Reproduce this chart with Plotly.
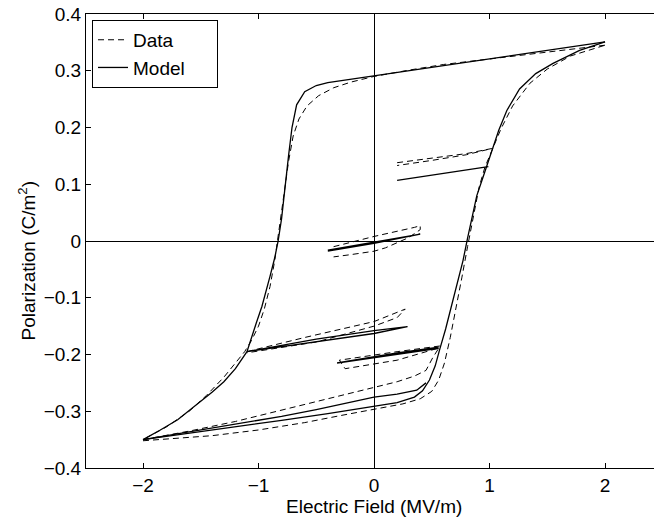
import plotly.graph_objects as go

# ---------------- data ----------------
# Model, major loop descending branch
model_desc_E = [2.0, 1.6, 1.2, 0.8, 0.4, 0.0, -0.2, -0.4, -0.5, -0.6, -0.67, -0.71, -0.74, -0.77, -0.8, -0.83,
                -0.86, -0.9, -0.93, -0.97, -1.02, -1.06, -1.1, -1.2, -1.3, -1.4, -1.55, -1.7, -1.85, -2.0]
model_desc_P = [0.351, 0.339, 0.327, 0.315, 0.303, 0.291, 0.285, 0.279, 0.274, 0.263, 0.240, 0.200, 0.150, 0.090,
                0.040, 0.000, -0.030, -0.062, -0.086, -0.115, -0.145, -0.172, -0.195, -0.225, -0.248, -0.266,
                -0.290, -0.315, -0.333, -0.350]
# Model, major loop ascending branch
model_asc_E = [-2.0, -1.6, -1.2, -0.8, -0.4, 0.0, 0.2, 0.35, 0.42, 0.48, 0.53, 0.57, 0.62, 0.67, 0.72, 0.77, 0.81,
               0.85, 0.89, 0.94, 0.98, 1.03, 1.08, 1.15, 1.26, 1.4, 1.55, 1.78, 2.0]
model_asc_P = [-0.350, -0.339, -0.328, -0.316, -0.304, -0.292, -0.285, -0.275, -0.264, -0.245, -0.220, -0.190,
               -0.155, -0.115, -0.075, -0.035, 0.005, 0.045, 0.080, 0.110, 0.135, 0.165, 0.195, 0.230, 0.268,
               0.295, 0.313, 0.336, 0.351]
# Model, return curve in the lower part
model_ret_E = [-2.0, -1.6, -1.2, -0.8, -0.5, -0.2, 0.0, 0.2, 0.37, 0.45]
model_ret_P = [-0.350, -0.336, -0.322, -0.309, -0.297, -0.283, -0.275, -0.270, -0.263, -0.250]
# Model, minor loops
model_loopA_E = [0.2, 0.6, 0.99]
model_loopA_P = [0.107, 0.119, 0.131]
model_loopB_E = [-0.4, 0.0, 0.4, 0.0, -0.4]
model_loopB_P = [-0.016, -0.002, 0.012, -0.004, -0.018]
model_loopC_E = [-1.1, -0.5, 0.0, 0.29, 0.0, -0.5, -1.1]
model_loopC_P = [-0.195, -0.177, -0.163, -0.151, -0.158, -0.173, -0.195]
model_loopD_E = [0.56, 0.2, -0.32, 0.0, 0.56]
model_loopD_P = [-0.187, -0.197, -0.215, -0.206, -0.189]

# Data, major loop descending branch
data_desc_E = [2.0, 1.75, 1.5, 1.2, 0.9, 0.6, 0.3, 0.0, -0.2, -0.35, -0.48, -0.58, -0.65, -0.7, -0.74, -0.78,
               -0.82, -0.86, -0.9, -0.95, -1.0, -1.06, -1.12, -1.2, -1.3, -1.45, -1.6, -1.8, -2.0]
data_desc_P = [0.345, 0.339, 0.333, 0.326, 0.319, 0.311, 0.301, 0.290, 0.280, 0.270, 0.256, 0.238, 0.215, 0.185,
               0.140, 0.080, 0.020, -0.035, -0.080, -0.120, -0.150, -0.175, -0.195, -0.215, -0.240, -0.272,
               -0.300, -0.328, -0.350]
# Data, major loop ascending branch
data_asc_E = [-2.0, -1.7, -1.4, -1.0, -0.6, -0.3, 0.0, 0.25, 0.4, 0.5, 0.56, 0.61, 0.66, 0.71, 0.76, 0.81, 0.86,
              0.91, 0.96, 1.02, 1.1, 1.2, 1.35, 1.5, 1.7, 2.0]
data_asc_P = [-0.352, -0.348, -0.343, -0.333, -0.320, -0.308, -0.297, -0.287, -0.278, -0.265, -0.245, -0.215,
              -0.170, -0.120, -0.065, -0.010, 0.045, 0.095, 0.130, 0.160, 0.198, 0.238, 0.278, 0.303, 0.326, 0.345]
# Data, return curve in the lower part
data_ret_E = [-2.0, -1.6, -1.2, -0.9, -0.6, -0.3, 0.0, 0.2, 0.35, 0.45, 0.51, 0.57]
data_ret_P = [-0.350, -0.335, -0.318, -0.303, -0.287, -0.272, -0.258, -0.248, -0.238, -0.228, -0.205, -0.186]
# Data, minor loops
data_loopA_E = [0.2, 0.5, 0.8, 1.02, 0.8, 0.5, 0.2]
data_loopA_P = [0.138, 0.146, 0.154, 0.163, 0.152, 0.142, 0.133]
data_loopB_E = [-0.35, 0.0, 0.35, 0.4, 0.4, 0.3, 0.1, 0.0, -0.2, -0.35]
data_loopB_P = [-0.010, 0.008, 0.024, 0.027, 0.020, 0.006, -0.012, -0.018, -0.024, -0.028]
data_loopC_E = [-1.1, -0.6, 0.0, 0.27, 0.2, 0.0, -0.5, -1.1]
data_loopC_P = [-0.195, -0.170, -0.142, -0.120, -0.135, -0.150, -0.178, -0.197]
data_loopD_E = [0.57, 0.2, -0.3, -0.25, 0.2, 0.57]
data_loopD_P = [-0.185, -0.195, -0.210, -0.225, -0.210, -0.188]

series_names = ["Data", "Model"]
x_ticks = [-2, -1, 0, 1, 2]
x_ticktext = ["\u22122", "\u22121", "0", "1", "2"]
y_ticks = [-0.4, -0.3, -0.2, -0.1, 0, 0.1, 0.2, 0.3, 0.4]
y_ticktext = ["\u22120.4", "\u22120.3", "\u22120.2", "\u22120.1", "0", "0.1", "0.2", "0.3", "0.4"]

# ---------------- figure ----------------
FONT = "Liberation Sans, Arial, Helvetica, sans-serif"
FS = 19
PAD = "\u00a0" * 5  # widen the legend box like the reference
fig = go.Figure()

data_curves = [(data_desc_E, data_desc_P), (data_asc_E, data_asc_P), (data_ret_E, data_ret_P),
               (data_loopA_E, data_loopA_P), (data_loopB_E, data_loopB_P),
               (data_loopC_E, data_loopC_P), (data_loopD_E, data_loopD_P)]
model_curves = [(model_desc_E, model_desc_P), (model_asc_E, model_asc_P), (model_ret_E, model_ret_P),
                (model_loopA_E, model_loopA_P), (model_loopB_E, model_loopB_P),
                (model_loopC_E, model_loopC_P), (model_loopD_E, model_loopD_P)]

for i, (ex, py) in enumerate(data_curves):
    fig.add_trace(go.Scatter(x=ex, y=py, mode="lines", name=series_names[0] + PAD, legendgroup="all",
                             showlegend=(i == 0),
                             line=dict(color="black", width=1, dash="6px,4px")))
for i, (ex, py) in enumerate(model_curves):
    fig.add_trace(go.Scatter(x=ex, y=py, mode="lines", name=series_names[1] + PAD, legendgroup="all",
                             showlegend=(i == 0),
                             line=dict(color="black", width=1.3)))

fig.update_layout(
    width=654, height=519,
    margin=dict(l=86, r=0, t=14, b=51),
    paper_bgcolor="white", plot_bgcolor="white",
    font=dict(family=FONT, size=FS, color="black"),
    showlegend=True,
    legend=dict(x=0.0106, y=0.987, xanchor="left", yanchor="top",
                bgcolor="white", bordercolor="black", borderwidth=1,
                font=dict(size=FS), tracegroupgap=0, traceorder="normal"),
    xaxis=dict(range=[-2.4935, 2.424], tickvals=x_ticks, ticktext=x_ticktext,
               ticks="inside", ticklen=5, tickcolor="black", showline=True, linecolor="black",
               linewidth=1, mirror="ticks", showgrid=False, zeroline=True, zerolinecolor="black",
               zerolinewidth=1, tickfont=dict(size=FS)),
    yaxis=dict(range=[-0.4, 0.4], tickvals=y_ticks, ticktext=y_ticktext,
               ticks="inside", ticklen=5, tickcolor="black", showline=True, linecolor="black",
               linewidth=1, mirror=False, showgrid=False, zeroline=True, zerolinecolor="black",
               zerolinewidth=1, tickfont=dict(size=FS)),
    annotations=[
        dict(text="Electric Field (MV/m)", x=0, xref="x", y=-38 / 454, yref="paper",
             xanchor="center", yanchor="middle", showarrow=False, font=dict(size=FS)),
        dict(text="Polarization (C/m<sup>2</sup>)", x=-59 / 568, xref="paper", y=0.455, yref="paper",
             xanchor="center", yanchor="middle", textangle=-90, showarrow=False, font=dict(size=FS)),
    ],
)

fig.write_html("out.html")
